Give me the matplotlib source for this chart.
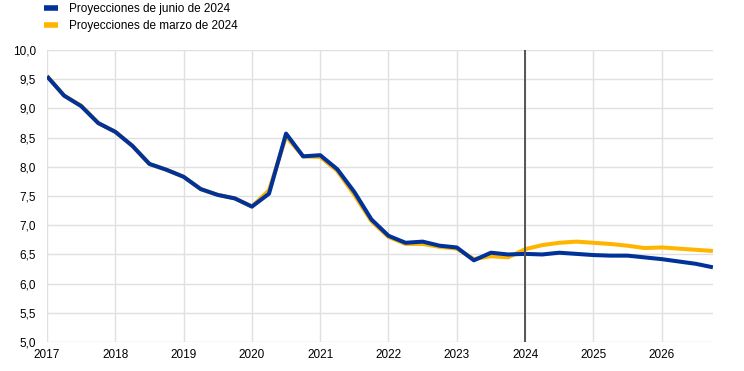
import numpy as np
import matplotlib.pyplot as plt
from matplotlib.ticker import FuncFormatter

plt.rcParams['font.family'] = ['Liberation Sans', 'DejaVu Sans']

# trimestres desde 2017T1 hasta 2026T4
quarters = np.arange(2017, 2027, 0.25)

junio_2024 = [9.55, 9.22, 9.04, 8.75, 8.60, 8.36, 8.05, 7.95, 7.83, 7.62,
              7.52, 7.46, 7.32, 7.54, 8.57, 8.18, 8.20, 7.96, 7.57, 7.10,
              6.82, 6.70, 6.72, 6.65, 6.62, 6.40, 6.53, 6.50, 6.51, 6.50,
              6.53, 6.51, 6.49, 6.48, 6.48, 6.45, 6.42, 6.38, 6.34, 6.28]

marzo_2024 = [9.56, 9.22, 9.05, 8.75, 8.60, 8.36, 8.05, 7.95, 7.83, 7.62,
              7.52, 7.46, 7.32, 7.60, 8.52, 8.18, 8.17, 7.93, 7.52, 7.07,
              6.80, 6.68, 6.68, 6.63, 6.60, 6.42, 6.47, 6.45, 6.59, 6.66,
              6.70, 6.72, 6.70, 6.68, 6.65, 6.61, 6.62, 6.60, 6.58, 6.56]

years = list(range(2017, 2027))
etiquetas = ["Proyecciones de junio de 2024", "Proyecciones de marzo de 2024"]

azul = "#003299"
amarillo = "#ffb400"

fig = plt.figure(figsize=(7.44, 3.71), dpi=100)
ax = fig.add_axes([0.0632, 0.078, 0.895, 0.787])

ax.plot(quarters, marzo_2024, color=amarillo, lw=2.9, label=etiquetas[1], solid_capstyle="butt")
ax.plot(quarters, junio_2024, color=azul, lw=2.9, label=etiquetas[0], solid_capstyle="butt")
ax.axvline(2024, color="#555555", lw=1.4, zorder=3)

ax.set_xlim(2017, 2026.75)
ax.set_ylim(5.0, 10.0)
ax.set_xticks(years)
ax.set_yticks(np.arange(5.0, 10.01, 0.5))
ax.yaxis.set_major_formatter(FuncFormatter(lambda v, p: f"{v:.1f}".replace(".", ",")))
ax.grid(True, color="#e0e0e0", lw=1)
ax.set_axisbelow(True)
ax.tick_params(length=0, labelsize=8.5)
ax.tick_params(axis="y", pad=8)
ax.tick_params(axis="x", pad=5)
for s in ax.spines.values():
    s.set_visible(False)

h, l = ax.get_legend_handles_labels()
fig.legend(h[::-1], l[::-1], loc="upper left", bbox_to_anchor=(0.045, 1.02), frameon=False,
           fontsize=8.5, handlelength=1.2, handletextpad=0.9, labelspacing=0.4)
for line in fig.legends[0].get_lines():
    line.set_linewidth(4)

fig.savefig("out.png", dpi=100)
